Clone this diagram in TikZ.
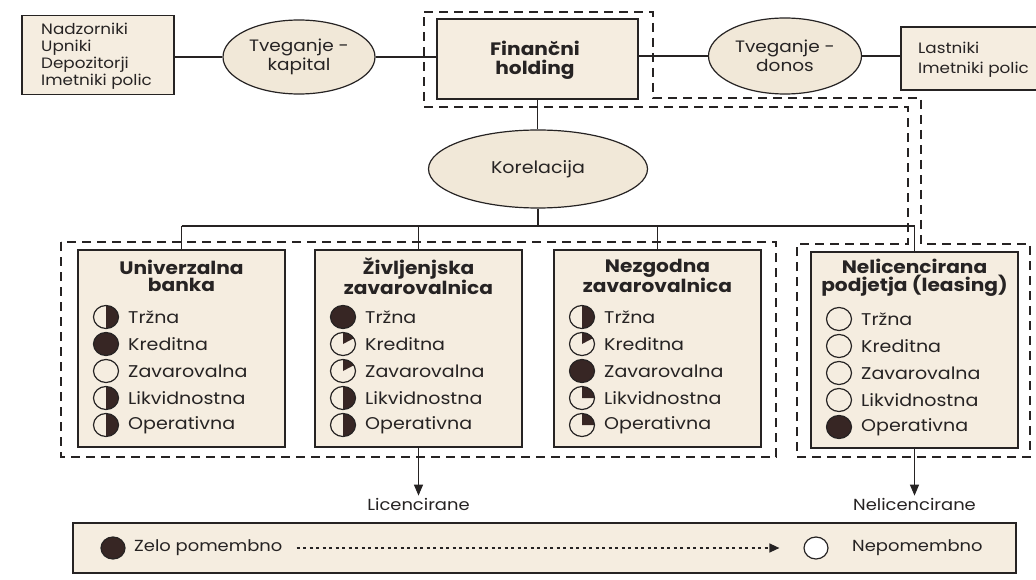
\documentclass[tikz,border=0pt]{standalone}
\usepackage{fontspec}
\setmainfont{Poppins}[FakeStretch=1.12]
\usetikzlibrary{arrows.meta,shapes.geometric}
\definecolor{boxfill}{RGB}{245,237,224}
\definecolor{ellfill}{RGB}{241,232,216}
\definecolor{ink}{RGB}{38,35,35}
\definecolor{piefill}{RGB}{55,38,36}
\tikzset{
  box/.style={draw=ink, line width=1.3pt, fill=boxfill, rectangle, inner sep=0pt},
  ell/.style={draw=ink, line width=1.2pt, fill=ellfill, ellipse, inner sep=0pt},
  conn/.style={draw=ink, line width=1.2pt},
  dashbox/.style={draw=ink, line width=1.7pt, dash pattern=on 9pt off 6pt},
  ttl/.style={font=\bfseries\fontsize{18}{17.5}\selectfont, align=center, text=ink, inner sep=0pt},
  itm/.style={font=\fontsize{17}{18}\selectfont, text=ink, anchor=west, inner sep=0pt},
  txt/.style={text=ink, inner sep=0pt},
  pieline/.style={draw=ink, line width=1.2pt},
  arr/.style={conn, -{Triangle[width=9pt,length=11pt]}},
}
\newcommand\dotE[2]{\draw[pieline] (#1,#2) ellipse[x radius=12.5, y radius=11.5];}
\newcommand\dotF[2]{\filldraw[pieline, fill=piefill] (#1,#2) ellipse[x radius=12.5, y radius=11.5];}
\newcommand\dotH[2]{\fill[piefill] (#1,#2-11.5) arc[start angle=-90, end angle=90, x radius=12.5, y radius=11.5] -- cycle; \dotE{#1}{#2}}
\newcommand\dotS[2]{\fill[piefill] (#1,#2) -- (#1,#2-11.5) arc[start angle=-90, end angle=-30, x radius=12.5, y radius=11.5] -- cycle; \dotE{#1}{#2}}
\newcommand\dotQ[2]{\fill[piefill] (#1,#2) -- (#1,#2-11.5) arc[start angle=-90, end angle=0, x radius=12.5, y radius=11.5] -- cycle; \dotE{#1}{#2}}
% #1 node name, #2 box left x, #3 y, #4 dot macro, #5 text
\newcommand\riskrow[5]{\pgfmathsetmacro\rcx{#2+28}\pgfmathsetmacro\rtx{#2+50}#4{\rcx}{#3}\node[itm] (#1) at (\rtx,#3) {#5};}

\begin{document}
\begin{tikzpicture}[x=1pt, y=-1pt]
\useasboundingbox (0,0) rectangle (1036,580);
\clip (0,0) rectangle (1036,580);
\fill[white] (0,0) rectangle (1036,580);

% dashed groups
\draw[dashbox] (424,12) -- (653,12) -- (653,98) -- (921,98) -- (921,244) -- (1030,244) -- (1030,457) -- (797,457) -- (797,244) -- (908,244) -- (908,107) -- (424,107) -- cycle;
\draw[dashbox] (61,242) rectangle (776,457);

% top row
\node[box, minimum width=152pt, minimum height=79pt] (tl) at (98,55) {};
\node[txt, anchor=west, align=left, font=\fontsize{15}{17}\selectfont] (tltxt) at (41,56) {Nadzorniki\\Upniki\\Depozitorji\\Imetniki polic};
\node[ell, minimum width=152pt, minimum height=74pt] (kap) at (299,57) {};
\node[txt, align=center, font=\fontsize{16.5}{19}\selectfont] (kaptxt) at (299,57) {Tveganje -\\kapital};
\node[box, minimum width=201pt, minimum height=80pt] (fin) at (537.5,59) {};
\node[txt, align=center, font=\bfseries\fontsize{18}{19}\selectfont] (fintxt) at (535,60) {Finančni\\holding};
\node[ell, minimum width=153pt, minimum height=76pt] (don) at (785,56) {};
\node[txt, align=center, font=\fontsize{16.5}{19}\selectfont] (dontxt) at (785,56) {Tveganje -\\donos};
\node[box, minimum width=150pt, minimum height=63pt] (last) at (976,58.5) {};
\node[txt, anchor=west, align=left, font=\fontsize{15}{20}\selectfont] (lasttxt) at (918,60) {Lastniki\\Imetniki polic};

\draw[conn] (tl.east |- kap.west) -- (kap.west);
\draw[conn] (kap.east) -- (fin.west |- kap.east);
\draw[conn] (fin.east |- don.west) -- (don.west);
\draw[conn] (don.east) -- (last.west |- don.east);

% correlation
\node[ell, minimum width=219pt, minimum height=78pt] (kor) at (538,169) {};
\node[txt, font=\fontsize{17}{19}\selectfont] (kortxt) at (538,169) {Korelacija};
\draw[conn] (fin.south) -- (kor.north -| fin.south);

% company boxes
\node[box, minimum width=207pt, minimum height=197pt] (univ) at (181.5,348.5) {};
\node[box, minimum width=207pt, minimum height=197pt] (zivl) at (418.5,348.5) {};
\node[box, minimum width=207pt, minimum height=197pt] (nezg) at (657.5,348.5) {};
\node[box, minimum width=207pt, minimum height=196pt] (neli) at (914.5,350) {};

\coordinate (busL) at (181.5,226);
\coordinate (busR) at (914.5,226);
\draw[conn] (busL) -- (busR);
\draw[conn] (kor.south) -- (kor.south |- busL);
\draw[conn] (busL) -- (univ.north);
\draw[conn] (zivl.north |- busL) -- (zivl.north);
\draw[conn] (nezg.north |- busL) -- (nezg.north);
\draw[conn] (busR) -- (neli.north);

\node[ttl] (univt) at (181.5,276) {Univerzalna\\banka};
\node[ttl] (zivlt) at (418.5,276) {Življenjska\\zavarovalnica};
\node[ttl] (nezgt) at (657.5,276) {Nezgodna\\zavarovalnica};
\node[ttl] (nelit) at (914.5,278) {Nelicencirana\\podjetja (leasing)};

\riskrow{u1}{78}{317}{\dotH}{Tržna}
\riskrow{u2}{78}{344}{\dotF}{Kreditna}
\riskrow{u3}{78}{371}{\dotE}{Zavarovalna}
\riskrow{u4}{78}{398}{\dotH}{Likvidnostna}
\riskrow{u5}{78}{425}{\dotH}{Operativna}

\riskrow{z1}{315}{317}{\dotF}{Tržna}
\riskrow{z2}{315}{344}{\dotS}{Kreditna}
\riskrow{z3}{315}{371}{\dotS}{Zavarovalna}
\riskrow{z4}{315}{398}{\dotH}{Likvidnostna}
\riskrow{z5}{315}{425}{\dotH}{Operativna}

\riskrow{n1}{554}{317}{\dotH}{Tržna}
\riskrow{n2}{554}{344}{\dotS}{Kreditna}
\riskrow{n3}{554}{371}{\dotF}{Zavarovalna}
\riskrow{n4}{554}{398}{\dotQ}{Likvidnostna}
\riskrow{n5}{554}{425}{\dotQ}{Operativna}

\riskrow{l1}{811}{319}{\dotE}{Tržna}
\riskrow{l2}{811}{346}{\dotE}{Kreditna}
\riskrow{l3}{811}{373}{\dotE}{Zavarovalna}
\riskrow{l4}{811}{400}{\dotE}{Likvidnostna}
\riskrow{l5}{811}{427}{\dotF}{Operativna}

% outputs
\node[txt, font=\fontsize{16}{18}\selectfont, inner sep=2pt] (lic) at (418.5,504) {Licencirane};
\node[txt, font=\fontsize{16}{18}\selectfont, inner sep=2pt] (nlic) at (914.5,504) {Nelicencirane};
\draw[arr] (zivl.south) -- (lic.north);
\draw[arr] (neli.south) -- (nlic.north);

% legend
\node[box, minimum width=943pt, minimum height=50pt] (leg) at (544.5,548) {};
\node[ell, fill=piefill, minimum width=24pt, minimum height=22pt] (zeloc) at (113,548) {};
\node[txt, anchor=west, font=\fontsize{16}{18}\selectfont] (zelo) at (134,548) {Zelo pomembno};
\node[ell, fill=white, minimum width=24pt, minimum height=22pt] (nepc) at (816,548) {};
\node[txt, anchor=west, font=\fontsize{16}{18}\selectfont] (nep) at (852,548) {Nepomembno};
\draw[draw=ink, line width=1.4pt, dash pattern=on 3pt off 3.5pt, -{Triangle[width=9pt,length=10pt]}, shorten <=14pt, shorten >=24pt] (zelo.east) -- (nepc.west);
\end{tikzpicture}
\end{document}
